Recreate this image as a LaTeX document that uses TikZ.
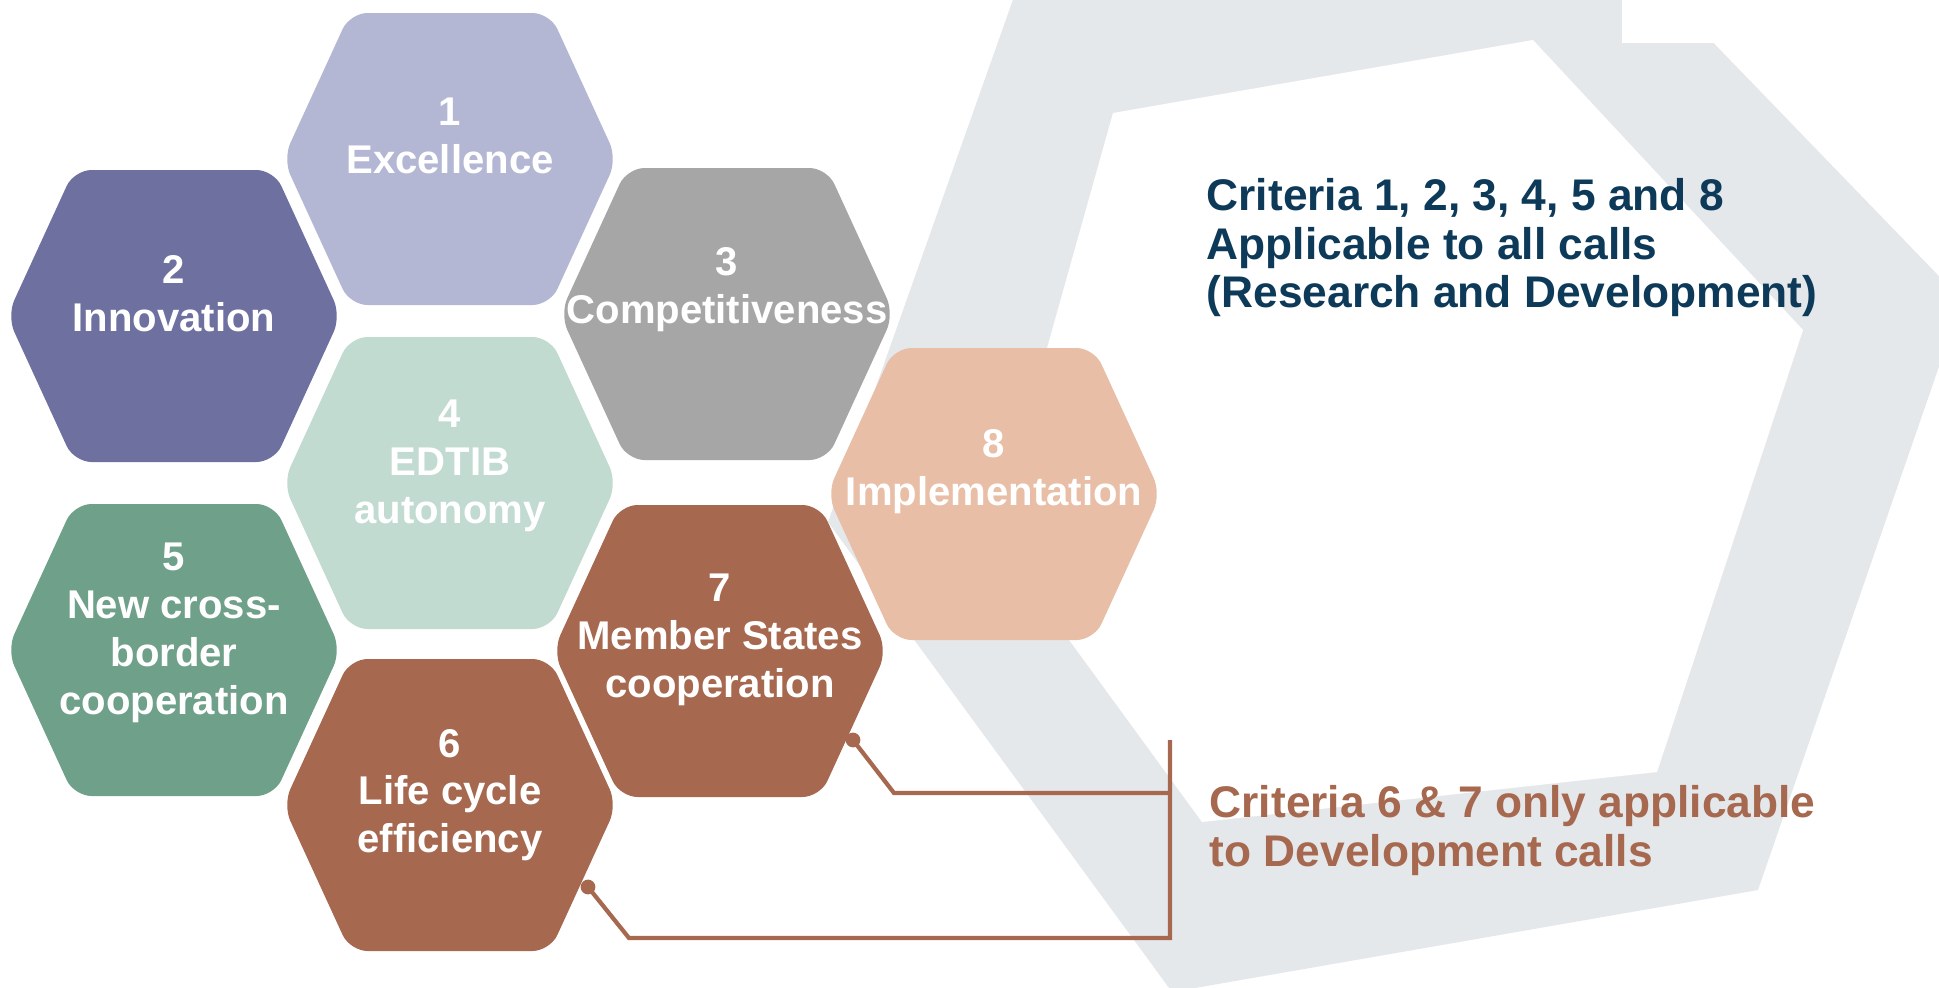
\documentclass[tikz,border=0pt]{standalone}
\usepackage{fontspec}
\setmainfont{Liberation Sans}
\usetikzlibrary{calc}

\definecolor{excel}{HTML}{B4B7D3}
\definecolor{innov}{HTML}{6E70A0}
\definecolor{compet}{HTML}{A6A6A6}
\definecolor{edtib}{HTML}{C2DBD0}
\definecolor{crossb}{HTML}{6FA08A}
\definecolor{brick}{HTML}{A6684E}
\definecolor{implem}{HTML}{E8BEA6}
\definecolor{navytext}{HTML}{0E3A5A}
\definecolor{bandgray}{HTML}{E5E8EB}

\tikzset{
  cell/.style={rounded corners=5pt},
  celltext/.style={text=white, inner sep=0pt, align=center,
    font=\bfseries\fontsize{11.4}{13.6}\selectfont},
  note/.style={inner sep=0pt, align=left, anchor=north west,
    font=\bfseries\fontsize{12.6}{13.8}\selectfont},
  link/.style={draw=brick, line width=1.2pt},
  dot/.style={circle, fill=brick, inner sep=0pt, minimum size=4.2pt}
}

\begin{document}
\begin{tikzpicture}[x=0.01cm, y=-0.01cm]
  \useasboundingbox (0,0) rectangle (1939,987);
  \fill[white] (0,0) rectangle (1939,987);
  % background band
  \begin{scope}
    \clip (0,0) rectangle (1939,987);
    \fill[bandgray] (1066,-150) -- (828,522) -- (1172,992) -- (1758,890)
      -- (1962,300) -- (1527,-150) -- cycle;
    \fill[white] (1113,113) -- (1533,40) -- (1803,330) -- (1657,772)
      -- (1202,822) -- (994,537) -- cycle;
    \fill[white] (1622,0) rectangle (1939,43);
  \end{scope}
  % cells
  \def\hex{++(-167,0) -- ++(67,-146) -- ++(200,0) -- ++(67,146)
    -- ++(-67,146) -- ++(-200,0) -- cycle}
  \fill[cell, excel] (450,159) \hex;
  \fill[cell, innov] (174,316) \hex;
  \fill[cell, compet] (727,314) \hex;
  \fill[cell, edtib] (450,483) \hex;
  \fill[cell, crossb] (174,650) \hex;
  \fill[cell, brick] (450,805) \hex;
  \fill[cell, brick] (720,651) \hex;
  \fill[cell, implem] (994,494) \hex;
  % labels
  \node[celltext] (excellence) at (450,136) {1\\Excellence};
  \node[celltext] (innovation) at (174,294) {2\\Innovation};
  \node[celltext] (competit) at (727,290) {3\\Competitiveness};
  \node[celltext] (autonomy) at (450,466) {4\\EDTIB\\autonomy};
  \node[celltext] (crossborder) at (174,633) {5\\New cross-\\border\\cooperation};
  \node[celltext] (lifecycle) at (450,795) {6\\Life cycle\\efficiency};
  \node[celltext] (memberstates) at (720,640) {7\\Member States\\cooperation};
  \node[celltext] (implementation) at (994,472) {8\\Implementation};
  % notes
  \node[note, text=navytext] (allcalls) at (1206,178)
    {Criteria 1, 2, 3, 4, 5 and 8\\Applicable to all calls\\(Research and Development)};
  \node[note, text=brick] (devcalls) at (1209,785)
    {Criteria 6 \& 7 only applicable\\to Development calls};
  % bracket
  \node[dot] (d7) at (853,740) {};
  \node[dot] (d6) at (588,887) {};
  \coordinate (k7) at (894,793);
  \coordinate (k6) at (629,938);
  \coordinate (btop) at (1170,740);
  \coordinate (bbot) at (1170,938);
  \draw[link] (d7.center) -- (k7) -- (k7 -| btop);
  \draw[link] (d6.center) -- (k6) -- (bbot) -- (btop);
\end{tikzpicture}
\end{document}
